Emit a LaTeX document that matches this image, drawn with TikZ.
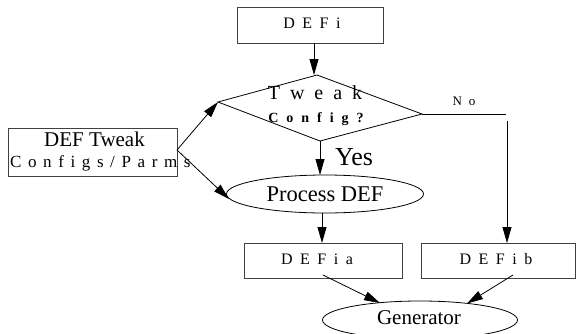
\documentclass[tikz,border=0pt]{standalone}
\usepackage{fontspec}
\setmainfont{Liberation Serif}
\usetikzlibrary{arrows.meta}
\newcommand\mysp[1]{\spaceskip #1\relax}
\tikzset{
  arr/.style={-{Triangle[length=16pt,width=9pt]}, line width=0.8pt},
  ln/.style={line width=0.8pt},
  boxn/.style={draw=black!75, line width=0.9pt, rectangle, inner sep=0pt},
  spaced/.style={font=\fontsize{16}{18}\selectfont\mysp{7.5pt}, inner sep=0pt},
  big/.style={font=\fontsize{21}{24}\selectfont, inner sep=0pt},
}
\begin{document}
\begin{tikzpicture}[x=1pt,y=-1pt]
\useasboundingbox (0,0) rectangle (576,333);
% boxes
\node[boxn, minimum width=146pt, minimum height=36pt] (defi) at (310,25) {};
\node[spaced] (defit) at (312,23) {D E F i};
\node[boxn, minimum width=169pt, minimum height=48pt] (tweak) at (92.5,152) {};
\node[big] (tweakt1) at (94.5,139) {DEF Tweak};
\node[font=\fontsize{17}{19}\selectfont\mysp{6.6pt}, inner sep=0pt, anchor=west] (tweakt2) at (10,163) {C o n f i g s / P a r m s};
\node[boxn, minimum width=158pt, minimum height=35pt] (defia) at (323,260.5) {};
\node[spaced] (defiat) at (317,259) {D E F i a};
\node[boxn, minimum width=154pt, minimum height=35pt] (defib) at (498,260.5) {};
\node[spaced] (defibt) at (496,259) {D E F i b};
% diamond
\coordinate (dtop) at (317,75);
\coordinate (dleft) at (218,102);
\coordinate (dright) at (422,114);
\coordinate (dbot) at (320,141);
\draw[ln] (dtop) -- (dright) -- (dbot) -- (dleft) -- cycle;
\node[font=\fontsize{20}{22}\selectfont\mysp{10pt}, inner sep=0pt] (tw) at (315,93) {T w e a k};
\node[font=\fontsize{14}{16}\selectfont\bfseries\mysp{8pt}, inner sep=0pt] (cf) at (316,119) {C o n f i g ?};
% ellipses
\draw[ln] (325,194) ellipse [x radius=98.5pt, y radius=19pt];
\node[big, minimum width=197pt, minimum height=38pt] (proc) at (325,194) {};
\node[font=\fontsize{22.5}{25}\selectfont, inner sep=0pt] (proct) at (325,194) {Process DEF};
\draw[ln] (420,320) ellipse [x radius=97.5pt, y radius=19pt];
\node[big, minimum width=195pt, minimum height=38pt] (gen) at (420,320) {};
\node[big] (gent) at (419,318) {Generator};
% labels
\node[font=\fontsize{26}{28}\selectfont, inner sep=0pt] (yes) at (354,157) {Yes};
\node[font=\fontsize{13}{15}\selectfont\mysp{7pt}, inner sep=0pt] (no) at (464,101) {N o};
% connectors
\coordinate (dtin) at (314,43);
\coordinate (dtip) at (314,75);
\draw[arr] (dtin) -- (dtip);
\coordinate (pin) at (320,175);
\draw[arr] (dbot) -- (pin);
\coordinate (noend) at (506,114);
\coordinate (nostart) at (507,121);
\coordinate (dbin) at (507,243);
\draw[ln] (dright) -- (noend);
\draw[arr] (nostart) -- (dbin);
\coordinate (tw0) at (177,150);
\draw[arr] (tw0) -- (dleft);
\coordinate (ptip) at (229,199);
\draw[arr] (tw0) -- (ptip);
\coordinate (pout) at (322,213);
\coordinate (dain) at (322,243);
\draw[arr] (pout) -- (dain);
\coordinate (daout) at (323,275);
\coordinate (gtipa) at (380,303);
\draw[arr] (daout) -- (gtipa);
\coordinate (dbout) at (513,275);
\coordinate (gtipb) at (467,303.5);
\draw[arr] (dbout) -- (gtipb);
\end{tikzpicture}
\end{document}
